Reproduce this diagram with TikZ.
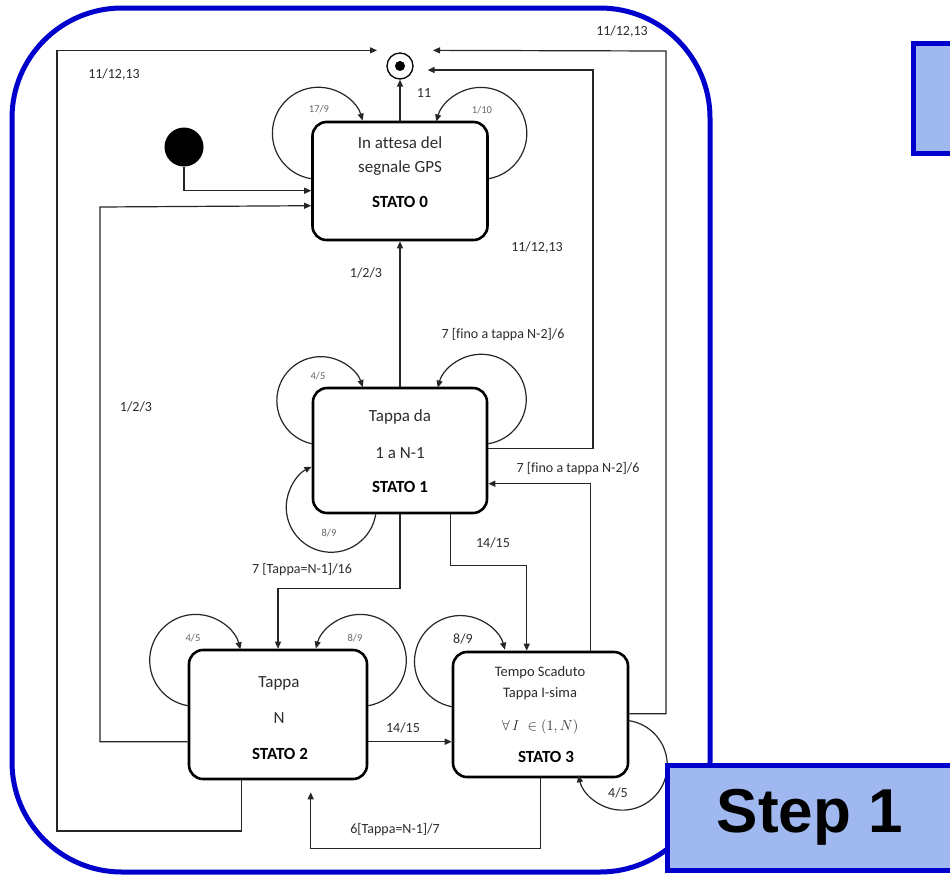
\documentclass[tikz,border=0pt]{standalone}
\usepackage{fontspec}
\setmainfont{Carlito}[Ligatures=NoCommon]
\newfontfamily\stepfont{Liberation Sans}
\usetikzlibrary{arrows.meta,calc}
\definecolor{frameblue}{RGB}{0,0,204}
\definecolor{panelfill}{RGB}{160,184,240}
\definecolor{ink}{RGB}{45,45,45}
\begin{document}
\begin{tikzpicture}[x=1pt,y=-1pt,
  state/.style={draw=black, line width=2.6pt, rounded corners=14pt, inner sep=0pt, fill=white},
  conn/.style={draw=black!85, line width=1.2pt},
  arr/.style={conn, -{Triangle[length=7pt,width=6pt]}},
  lbl/.style={text=ink, font=\fontsize{14}{16}\selectfont, inner sep=0pt},
  tinylbl/.style={text=black!60, font=\fontsize{10.5}{12}\selectfont, inner sep=0pt},
  txt/.style={text=ink, font=\fontsize{17}{20}\selectfont, inner sep=0pt},
  smalltxt/.style={text=ink, font=\fontsize{14.5}{17}\selectfont, inner sep=0pt},
  boldtxt/.style={text=black, font=\fontsize{17}{20}\selectfont\bfseries, inner sep=0pt},
  panel/.style={draw=frameblue, fill=panelfill, line width=5pt}]

\useasboundingbox (0,0) rectangle (950,876);
\clip (0,0) rectangle (950,876);
\fill[white] (0,0) rectangle (950,876);

% outer frame
\draw[frameblue, line width=5pt, rounded corners=110pt] (12,8) rectangle (710,872);

% states
\node[state, minimum width=175pt, minimum height=118pt] (s0) at (400,181) {};
\node[state, minimum width=174pt, minimum height=125pt] (s1) at (400,450.5) {};
\node[state, minimum width=178pt, minimum height=129pt] (s2) at (278,714.5) {};
\node[state, minimum width=175pt, minimum height=125pt] (s3) at (540.5,714.5) {};

\node[txt] (s0a) at (400,143) {In attesa del};
\node[txt] (s0b) at (400,168) {segnale GPS};
\node[boldtxt] (s0c) at (400,202) {STATO 0};

\node[txt] (s1a) at (400,417) {Tappa da};
\node[txt] (s1b) at (400,453) {1 a N-1};
\node[boldtxt] (s1c) at (400,487) {STATO 1};

\node[txt] (s2a) at (279,683) {Tappa};
\node[txt] (s2b) at (279,718) {N};
\node[boldtxt] (s2c) at (280,754) {STATO 2};

\node[smalltxt] (s3a) at (540,673) {Tempo Scaduto};
\node[smalltxt] (s3b) at (540,694) {Tappa I-sima};
\node[smalltxt] (s3c) at (540,727) {$\forall\, I\;\in(1,N)$};
\node[boldtxt] (s3d) at (546,757) {STATO 3};

% initial and final states
\node[circle, fill=black, minimum size=39pt, inner sep=0pt] (init) at (184,147) {};
\node[circle, draw=black, line width=1.3pt, minimum size=26pt, inner sep=0pt] (fin) at (400,66) {};
\node[circle, fill=black, minimum size=10pt, inner sep=0pt] (findot) at (fin) {};

% transitions
\draw[arr] (init.south) |- ($(s0.north west)+(0,70)$);
\draw[arr] ($(s2.north west)+(0,93)$) -| (100,207) -- ($(s0.north west)+(0,85)$);
\draw[arr] ($(s2.south west)+(54,0)$) |- (57,831) |- ($(fin.north)+(-23,-2)$);
\draw[arr] ($(s3.north east)+(0,63)$) -| (666,51) -- ($(fin.north)+(33,-2)$);
\draw[arr] ($(s1.north east)+(0,62)$) -| (593,70) -- ($(fin.east)+(14,4)$);
\draw[arr] (s0.north) -- (fin.south);
\draw[arr] (s1.north) -- (s0.south);
\draw[arr] (s1.south) -- ++(0,74) -| (s2.north);
\draw[arr] ($(s1.south west)+(139,0)$) -- ++(0,51) -| ($(s3.north west)+(75,0)$);
\draw[arr] ($(s3.north west)+(139,0)$) |- ($(s1.north east)+(0,97)$);
\draw[arr] ($(s2.north east)+(0,93)$) -- ($(s3.north west)+(0,91)$);
\draw[arr] ($(s3.south west)+(89,0)$) -- ++(0,70) -| ($(s2.south west)+(123,12)$);

% self loops
\draw[arr] ($(s0.north west)+(0,58)$) arc[start angle=99, end angle=344, radius=46];
\draw[arr] ($(s0.north east)+(0,58)$) arc[start angle=80, end angle=-165, radius=46];
\draw[arr] ($(s1.north west)+(0,57)$) arc[start angle=102, end angle=342, radius=44];
\draw[arr] ($(s1.north east)+(0,57)$) arc[start angle=81, end angle=-165, radius=45];
\draw[arr] ($(s1.south west)+(64,0)$) arc[start angle=9, end angle=244, radius=45];
\draw[arr] ($(s2.north west)+(0,57)$) arc[start angle=100, end angle=346, radius=46];
\draw[arr] ($(s2.north east)+(0,57)$) arc[start angle=80, end angle=-165, radius=46];
\draw[arr] ($(s3.north west)+(0,56)$) arc[start angle=101, end angle=345, radius=46];
\draw[arr] ($(s3.north east)+(0,70)$) arc[start angle=-81, end angle=167, radius=45];

% transition labels
\node[lbl] (l1) at (114,75) {11/12,13};
\node[lbl] (l2) at (622,32) {11/12,13};
\node[lbl] (l3) at (537,248) {11/12,13};
\node[lbl] (l4) at (424,93) {11};
\node[tinylbl] (l5) at (319,109) {17/9};
\node[tinylbl] (l6) at (482,110) {1/10};
\node[lbl] (l7) at (366,273) {1/2/3};
\node[lbl] (l8) at (503,335) {7 [fino a tappa N-2]/6};
\node[tinylbl] (l9) at (318,376) {4/5};
\node[lbl] (l10) at (136,407) {1/2/3};
\node[lbl] (l11) at (578,469) {7 [fino a tappa N-2]/6};
\node[tinylbl] (l12) at (329,533) {8/9};
\node[lbl] (l13) at (493,543) {14/15};
\node[lbl] (l14) at (302,570) {7 [Tappa=N-1]/16};
\node[tinylbl] (l15) at (193,638) {4/5};
\node[tinylbl] (l16) at (355,638) {8/9};
\node[lbl] (l17) at (463,639) {8/9};
\node[lbl] (l18) at (403,728) {14/15};
\node[lbl] (l19) at (618,793) {4/5};
\node[lbl] (l20) at (395,830) {6[Tappa=N-1]/7};

% side panels
\draw[panel] (913,43) rectangle (970,153);
\draw[panel] (667,765) rectangle (970,870);
\node[text=black, font=\stepfont\bfseries\fontsize{62}{70}\selectfont, inner sep=0pt] (steptxt) at (810,817) {Step 1};
\end{tikzpicture}
\end{document}
